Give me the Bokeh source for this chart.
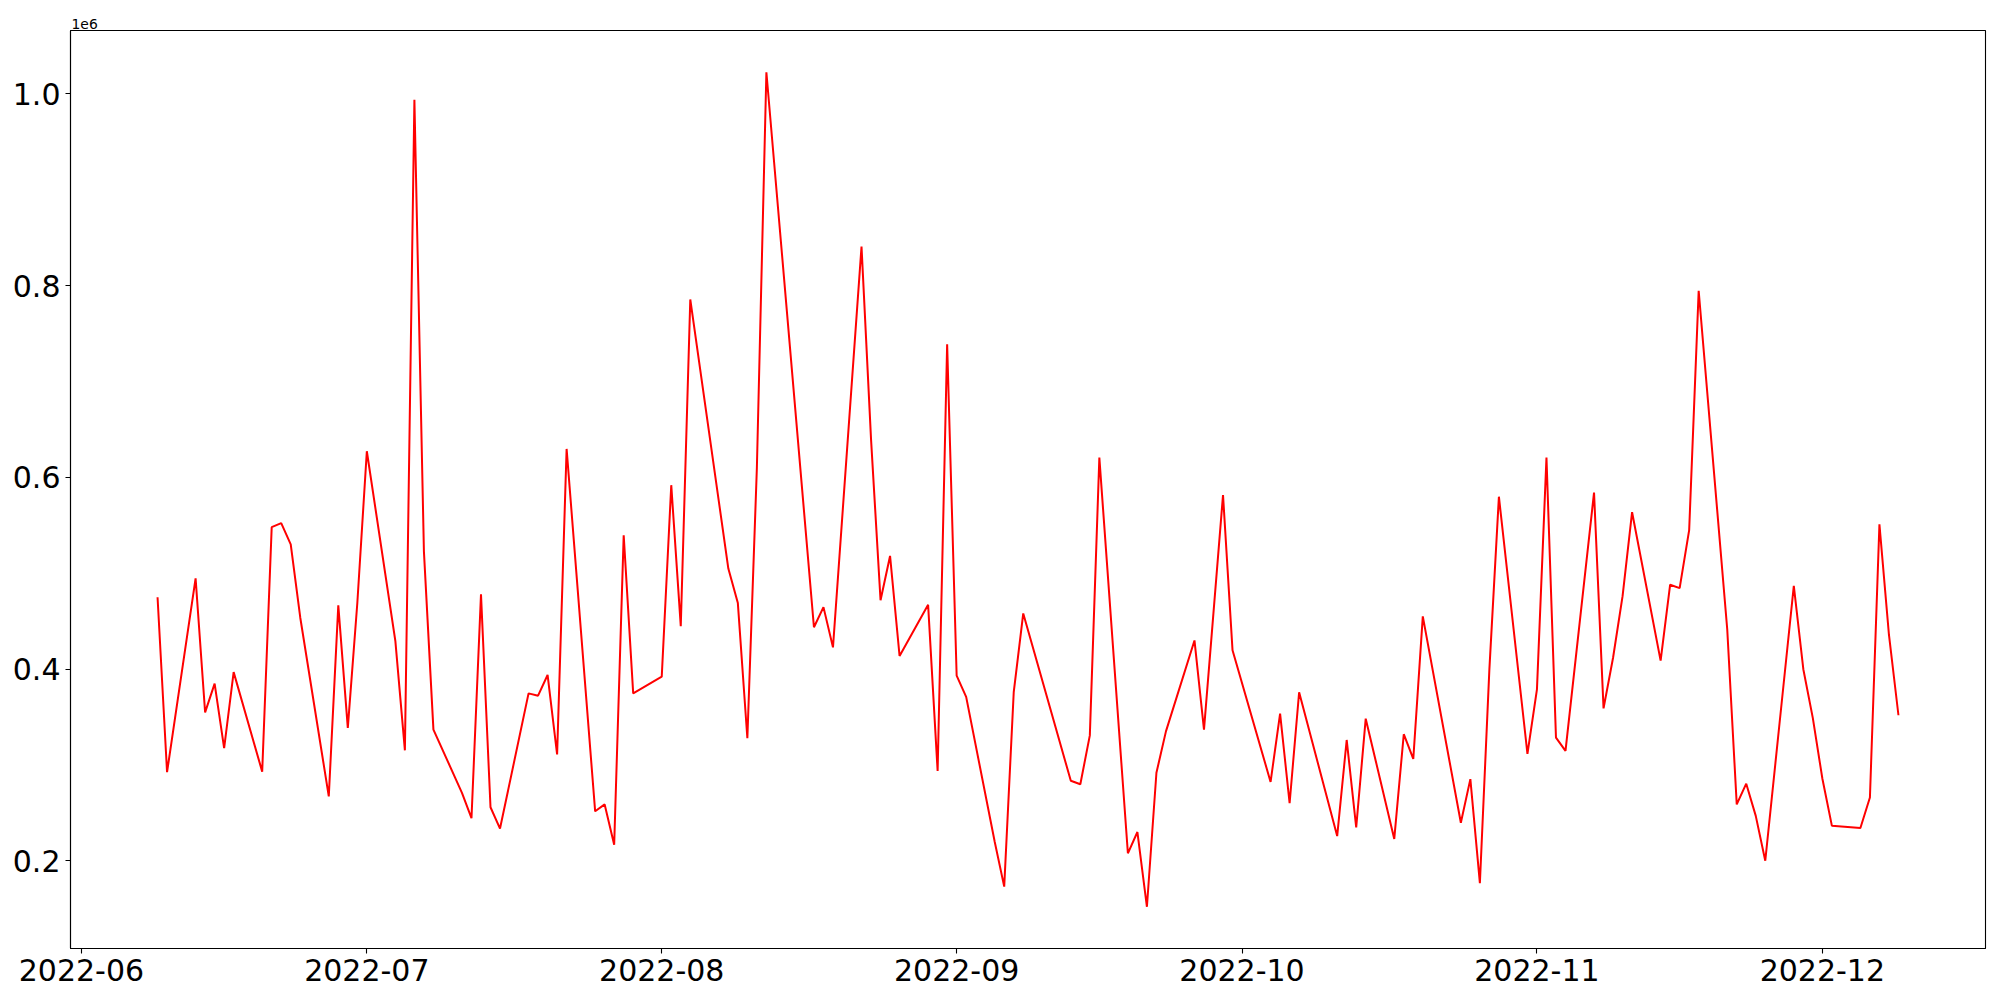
import pandas as pd
from bokeh.plotting import figure
from bokeh.models import ColumnDataSource, FixedTicker, Range1d, DatetimeTickFormatter
from bokeh.embed import file_html
from bokeh.resources import INLINE

dates = [
    "2022-06-09", "2022-06-10", "2022-06-13", "2022-06-14", "2022-06-15", "2022-06-16", "2022-06-17",
    "2022-06-20", "2022-06-21", "2022-06-22", "2022-06-23", "2022-06-24", "2022-06-27", "2022-06-28",
    "2022-06-29", "2022-06-30", "2022-07-01", "2022-07-04", "2022-07-05", "2022-07-06", "2022-07-07",
    "2022-07-08", "2022-07-11", "2022-07-12", "2022-07-13", "2022-07-14", "2022-07-15", "2022-07-18",
    "2022-07-19", "2022-07-20", "2022-07-21", "2022-07-22", "2022-07-25", "2022-07-26", "2022-07-27",
    "2022-07-28", "2022-07-29", "2022-08-01", "2022-08-02", "2022-08-03", "2022-08-04", "2022-08-08",
    "2022-08-09", "2022-08-10", "2022-08-11", "2022-08-12", "2022-08-17", "2022-08-18", "2022-08-19",
    "2022-08-22", "2022-08-23", "2022-08-24", "2022-08-25", "2022-08-26", "2022-08-29", "2022-08-30",
    "2022-08-31", "2022-09-01", "2022-09-02", "2022-09-05", "2022-09-06", "2022-09-07", "2022-09-08",
    "2022-09-13", "2022-09-14", "2022-09-15", "2022-09-16", "2022-09-19", "2022-09-20", "2022-09-21",
    "2022-09-22", "2022-09-23", "2022-09-26", "2022-09-27", "2022-09-29", "2022-09-30", "2022-10-04",
    "2022-10-05", "2022-10-06", "2022-10-07", "2022-10-11", "2022-10-12", "2022-10-13", "2022-10-14",
    "2022-10-17", "2022-10-18", "2022-10-19", "2022-10-20", "2022-10-24", "2022-10-25", "2022-10-26",
    "2022-10-27", "2022-10-28", "2022-10-31", "2022-11-01", "2022-11-02", "2022-11-03", "2022-11-04",
    "2022-11-07", "2022-11-08", "2022-11-09", "2022-11-10", "2022-11-11", "2022-11-14", "2022-11-15",
    "2022-11-16", "2022-11-17", "2022-11-18", "2022-11-21", "2022-11-22", "2022-11-23", "2022-11-24",
    "2022-11-25", "2022-11-28", "2022-11-29", "2022-11-30", "2022-12-01", "2022-12-02", "2022-12-05",
    "2022-12-06", "2022-12-07", "2022-12-08", "2022-12-09",
]

values = [
    475000, 292500, 494700, 354900, 384900, 317700, 396900,
    293100, 548100, 552300, 530100, 453900, 267300, 466500,
    338700, 469000, 627300, 429300, 315300, 993900, 522900,
    336900, 271000, 244500, 478000, 255900, 233700, 374700,
    372300, 393900, 311100, 629700, 251700, 258900, 216900,
    539700, 374700, 392100, 591900, 444900, 785700, 504900,
    468900, 327900, 610000, 1022700, 443700, 464700, 422700,
    840900, 640000, 471900, 518100, 413700, 467100, 293700,
    738900, 393300, 371100, 219900, 173100, 375900, 458100,
    283500, 279900, 330900, 620700, 207900, 230100, 152100,
    291900, 335100, 429900, 336900, 581700, 419700, 282300,
    353700, 260100, 375900, 225900, 326100, 234900, 348300,
    222900, 332100, 306300, 455100, 239700, 285300, 176700,
    400000, 579900, 311700, 378900, 620700, 328500, 314700,
    584100, 359100, 411900, 476100, 563700, 408900, 488100,
    484500, 545100, 794700, 441900, 258900, 280500, 246900,
    200100, 486900, 399900, 348900, 285900, 236700, 234300,
    266100, 551100, 435900, 351900,
]

x_tick_labels = ["2022-06", "2022-07", "2022-08", "2022-09", "2022-10", "2022-11", "2022-12"]
y_ticks = [200000, 400000, 600000, 800000, 1000000]
y_tick_labels = ["0.2", "0.4", "0.6", "0.8", "1.0"]
offset_text = "1e6"

dt = pd.to_datetime(dates)
src = ColumnDataSource(data=dict(x=dt, y=values))

to_ms = lambda t: pd.Timestamp(t).value / 1e6
x0, x1 = to_ms(dt.min()), to_ms(dt.max())
xm = 0.05 * (x1 - x0)
y0, y1 = min(values), max(values)
ym = 0.05 * (y1 - y0)

FONT = "DejaVu Sans"

p = figure(
    x_axis_type="datetime",
    frame_width=1915, frame_height=918,
    min_border_left=70, min_border_right=7, min_border_top=30, min_border_bottom=44,
    x_range=Range1d(x0 - xm, x1 + xm),
    y_range=Range1d(y0 - ym, y1 + ym),
    output_backend="svg", toolbar_location=None,
    background_fill_color="white", border_fill_color="white",
)

p.title.text = offset_text
p.title.align = "left"
p.title.text_font = FONT
p.title.text_font_size = "13.9px"
p.title.text_font_style = "normal"
p.title.text_color = "black"
p.title.standoff = 4
p.title.offset = 1

p.line(x="x", y="y", source=src, line_color="#ff0000", line_width=2)

p.xgrid.visible = False
p.ygrid.visible = False
p.outline_line_color = "black"
p.outline_line_width = 1.1
p.outline_line_alpha = 1.0

p.xaxis.ticker = FixedTicker(ticks=[to_ms(m + "-01") for m in x_tick_labels])
fmt = "%Y-%m"
p.xaxis.formatter = DatetimeTickFormatter(
    microseconds=fmt, milliseconds=fmt, seconds=fmt, minsec=fmt, minutes=fmt,
    hourmin=fmt, hours=fmt, days=fmt, months=fmt, years=fmt,
)
p.yaxis.ticker = FixedTicker(ticks=y_ticks)
p.yaxis.major_label_overrides = {t: l for t, l in zip(y_ticks, y_tick_labels)}

for ax in (p.xaxis, p.yaxis):
    ax.axis_line_color = "black"
    ax.axis_line_width = 1.1
    ax.major_tick_line_color = "black"
    ax.major_tick_line_width = 1.1
    ax.major_tick_out = 5
    ax.major_tick_in = 0
    ax.minor_tick_out = 0
    ax.minor_tick_in = 0
    ax.major_label_text_font = FONT
    ax.major_label_text_font_size = "30px"
    ax.major_label_text_color = "black"
    ax.major_label_standoff = 5

open("out.html", "w").write(file_html(p, INLINE))
